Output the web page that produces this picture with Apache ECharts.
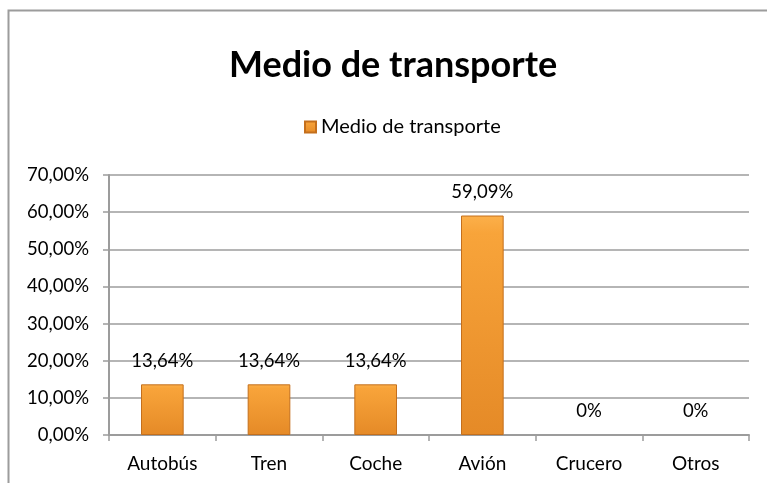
<!DOCTYPE html>
<html>
<head>
  <meta charset="utf-8">
  <title>Medio de transporte</title>
  <script src="https://cdn.jsdelivr.net/npm/echarts@6/dist/echarts.min.js"></script>
</head>
<body style="margin:0; background:#fff;">
<div id="chartmain" style="width:767px; height:483px;"></div>
<script type="text/javascript">
  // datos
  var categories = ['Autobús', 'Tren', 'Coche', 'Avión', 'Crucero', 'Otros'];
  var porcentajes = [13.64, 13.64, 13.64, 59.09, 0, 0];
  var seriesName = 'Medio de transporte';

  // eje: siempre con dos decimales
  function fmtEje(v) {
    return v.toFixed(2).replace('.', ',') + '%';
  }
  // etiquetas de datos: el 0 sale como "0%"
  function fmtDato(v) {
    if (v === 0) return '0%';
    return v.toFixed(2).replace('.', ',') + '%';
  }

  var font = 'Lato, "Open Sans", sans-serif';
  var gris = '#9c9c9c';

  var myChart = echarts.init(document.getElementById('chartmain'));
  var option = {
    animation: false,
    textStyle: { fontFamily: font },
    graphic: [{
      type: 'polyline',
      shape: { points: [[8.5, 490], [8.5, 10.5], [780, 10.5]] },
      style: { stroke: gris, lineWidth: 2, fill: null }
    }],
    title: {
      text: 'Medio de transporte',
      left: 224,
      top: 42,
      textStyle: { fontFamily: font, fontSize: 36, fontWeight: 'bold', color: '#000' }
    },
    legend: {
      top: 112,
      left: 299,
      itemWidth: 11,
      itemHeight: 11,
      itemGap: 6,
      icon: 'rect',
      textStyle: { fontFamily: font, fontSize: 20, color: '#000' },
      data: [seriesName]
    },
    grid: { left: 109, right: 18, top: 175, bottom: 48, containLabel: false },
    xAxis: {
      type: 'category',
      data: categories,
      boundaryGap: true,
      axisLine: { lineStyle: { color: gris, width: 2 } },
      axisTick: { show: true, alignWithLabel: false, length: 6, lineStyle: { color: gris, width: 1.5 } },
      axisLabel: { color: '#000', fontSize: 19, margin: 19, fontFamily: font }
    },
    yAxis: {
      type: 'value',
      min: 0,
      max: 70,
      interval: 10,
      axisLine: { show: true, lineStyle: { color: gris, width: 2 } },
      axisTick: { show: true, length: 6, lineStyle: { color: gris, width: 1.5 } },
      axisLabel: { color: '#000', fontSize: 18.5, margin: 20, fontFamily: font, formatter: fmtEje },
      splitLine: { lineStyle: { color: gris, width: 1.5 } }
    },
    series: [{
      name: seriesName,
      type: 'bar',
      data: porcentajes.map(function (v) {
        return v === 0 ? { value: v, itemStyle: { borderWidth: 0, opacity: 0 } } : v;
      }),
      barWidth: '40%',
      itemStyle: {
        color: new echarts.graphic.LinearGradient(0, 0, 0, 1, [
          { offset: 0, color: '#fcb04a' },
          { offset: 0.08, color: '#f8a43a' },
          { offset: 1, color: '#e58a27' }
        ]),
        borderColor: '#c46f1c',
        borderWidth: 1
      },
      label: {
        show: true,
        position: 'top',
        distance: 14,
        color: '#000',
        fontSize: 18.5,
        fontFamily: font,
        opacity: 1,
        formatter: function (p) { return fmtDato(p.value); }
      }
    }]
  };
  myChart.setOption(option);
</script>
</body>
</html>
